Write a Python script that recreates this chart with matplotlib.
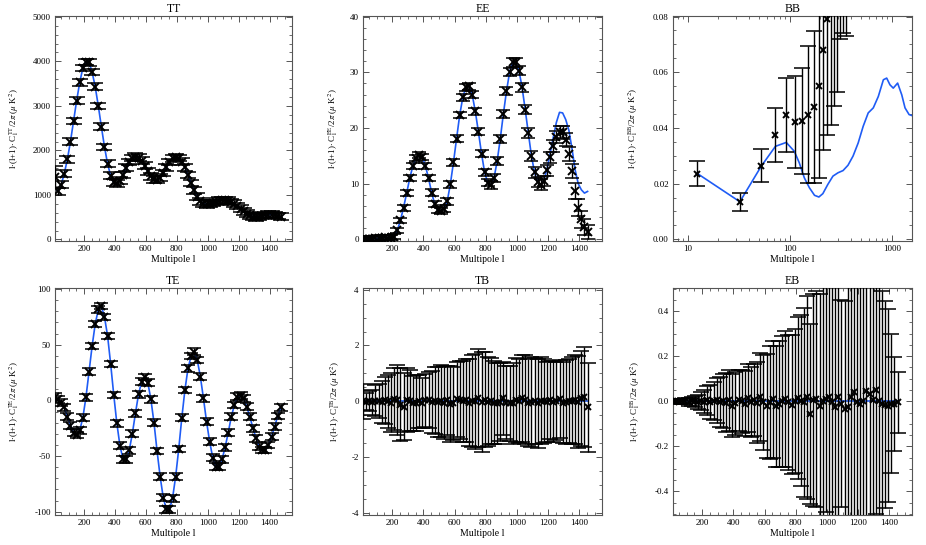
import numpy as np
import matplotlib.pyplot as plt
from matplotlib.ticker import MultipleLocator, AutoMinorLocator, FixedLocator, LogLocator, NullFormatter, FormatStrFormatter

plt.rcParams['font.family'] = ['Liberation Serif', 'DejaVu Serif']
plt.rcParams['mathtext.fontset'] = 'stix'
plt.rcParams['axes.unicode_minus'] = False

# bin centres (multipole l)
ell = [12.5, 32.5, 52.5, 72.5, 92.5, 112.5, 132.5, 152.5, 172.5, 192.5,
       212.5, 232.5, 252.5, 272.5, 292.5, 312.5, 332.5, 352.5, 372.5, 392.5,
       412.5, 432.5, 452.5, 472.5, 492.5, 512.5, 532.5, 552.5, 572.5, 592.5,
       612.5, 632.5, 652.5, 672.5, 692.5, 712.5, 732.5, 752.5, 772.5, 792.5,
       812.5, 832.5, 852.5, 872.5, 892.5, 912.5, 932.5, 952.5, 972.5, 992.5,
       1012.5, 1032.5, 1052.5, 1072.5, 1092.5, 1112.5, 1132.5, 1152.5, 1172.5, 1192.5,
       1212.5, 1232.5, 1252.5, 1272.5, 1292.5, 1312.5, 1332.5, 1352.5, 1372.5, 1392.5,
       1412.5, 1432.5, 1452.5, 1472.5]

# TT
tt_data = [1400, 1080, 1230, 1480, 1800, 2200, 2660, 3120, 3530, 3850,
           3990, 3980, 3760, 3430, 3000, 2530, 2080, 1700, 1430, 1280,
           1260, 1320, 1450, 1610, 1740, 1830, 1860, 1840, 1770, 1660,
           1530, 1420, 1350, 1340, 1390, 1490, 1620, 1740, 1820, 1850,
           1830, 1750, 1620, 1450, 1270, 1100, 960, 860, 800, 790,
           800, 820, 850, 870, 880, 880, 870, 840, 800, 750,
           690, 630, 580, 540, 510, 500, 510, 530, 550, 560,
           560, 550, 530, 510]
tt_err = [240, 80, 75, 75, 75, 75, 75, 75, 75, 75,
          75, 75, 75, 75, 75, 75, 75, 75, 75, 75,
          75, 75, 75, 75, 75, 75, 75, 75, 75, 75,
          75, 75, 75, 75, 75, 75, 75, 75, 75, 75,
          75, 75, 75, 75, 75, 75, 75, 75, 75, 75,
          75, 75, 75, 75, 75, 75, 75, 75, 75, 75,
          75, 75, 75, 75, 75, 75, 75, 75, 75, 75,
          75, 75, 75, 75]
tt_model = [1150, 1080, 1230, 1480, 1800, 2200, 2660, 3120, 3530, 3850,
            3990, 3980, 3760, 3430, 3000, 2530, 2080, 1700, 1430, 1280,
            1260, 1320, 1450, 1610, 1740, 1830, 1860, 1840, 1770, 1660,
            1530, 1420, 1350, 1340, 1390, 1490, 1620, 1740, 1820, 1850,
            1830, 1750, 1620, 1450, 1270, 1100, 960, 860, 800, 790,
            800, 820, 850, 870, 880, 880, 870, 840, 800, 750,
            690, 630, 580, 540, 510, 500, 510, 530, 550, 560,
            560, 550, 530, 510]

# EE
ee_data = [0.05, 0.0, 0.05, 0.1, 0.15, 0.2, 0.3, 0.35, 0.3, 0.3,
           0.5, 1.6, 3.4, 5.7, 8.3, 11.0, 13.2, 14.6, 15.1, 14.8,
           13.2, 11.0, 8.4, 6.3, 5.2, 5.1, 5.5, 6.8, 9.9, 13.8,
           18.1, 22.3, 25.5, 27.3, 27.5, 26.0, 23.0, 19.3, 15.4, 12.0,
           10.2, 9.8, 11.0, 14.0, 18.0, 22.5, 26.6, 30.0, 31.8, 31.8,
           30.3, 27.3, 23.3, 19.1, 15.0, 12.0, 10.3, 9.8, 10.5, 12.4,
           14.7, 16.8, 18.4, 19.3, 19.2, 17.9, 15.4, 12.3, 8.7, 5.7,
           3.6, 2.2, 1.3]
ee_err = [0.5, 0.5, 0.5, 0.5, 0.5, 0.5, 0.5, 0.5, 0.5, 0.5,
          0.5, 0.5, 0.5, 0.55, 0.55, 0.55, 0.55, 0.55, 0.55, 0.55,
          0.55, 0.55, 0.55, 0.55, 0.55, 0.55, 0.6, 0.6, 0.6, 0.6,
          0.6, 0.6, 0.6, 0.65, 0.65, 0.65, 0.65, 0.65, 0.65, 0.65,
          0.7, 0.7, 0.7, 0.7, 0.7, 0.75, 0.75, 0.75, 0.8, 0.8,
          0.8, 0.8, 0.85, 0.85, 0.9, 0.9, 0.9, 0.95, 0.95, 1.0,
          1.0, 1.05, 1.1, 1.1, 1.15, 1.2, 1.25, 1.3, 1.4, 1.5,
          1.5, 1.4, 1.3]
ee_model = [0.05, 0.0, 0.05, 0.1, 0.15, 0.2, 0.3, 0.35, 0.3, 0.3,
            0.5, 1.6, 3.4, 5.7, 8.3, 11.0, 13.2, 14.6, 15.1, 14.8,
            13.2, 11.0, 8.4, 6.3, 5.2, 5.1, 5.5, 6.8, 9.9, 13.8,
            18.1, 22.3, 25.5, 27.3, 27.5, 26.0, 23.0, 19.3, 15.4, 12.0,
            10.2, 9.8, 11.0, 14.0, 18.0, 22.5, 26.6, 30.0, 31.8, 31.8,
            30.3, 27.3, 23.3, 19.1, 15.0, 12.0, 10.3, 9.8, 10.6, 12.7,
            15.4, 18.3, 21.0, 22.8, 22.7, 21.5, 19.6, 16.3, 12.5, 10.0,
            8.9, 8.3, 8.6]

# BB
bb_data = [0.0236, 0.0135, 0.0265, 0.0376, 0.0448, 0.0420, 0.0426, 0.0448, 0.0475, 0.0552,
           0.0680, 0.0790, 0.090, 0.100, 0.110, 0.130, 0.140, 0.150]
bb_err = [0.0045, 0.0032, 0.0060, 0.0097, 0.0133, 0.0165, 0.0190, 0.0245, 0.0272, 0.0330,
          0.0358, 0.0417, 0.049, 0.052, 0.057, 0.058, 0.066, 0.077]
bb_model_ell = [12.5, 32.5, 52.5, 72.5, 92.5, 111, 124, 139, 156, 175, 193, 211, 236, 265,
                297, 333, 372, 417, 468, 524, 587, 658, 737, 826, 890, 958, 1032, 1139,
                1250, 1346, 1475, 1560]
bb_model = [0.0236, 0.0135, 0.0262, 0.0334, 0.0348, 0.0316, 0.0275, 0.0221, 0.0185, 0.0158,
            0.0152, 0.0164, 0.0197, 0.0227, 0.0239, 0.0247, 0.0266, 0.0299, 0.0346, 0.0406,
            0.0454, 0.0472, 0.0513, 0.0573, 0.0579, 0.0555, 0.0543, 0.0561, 0.0519, 0.0472,
            0.0448, 0.0445]

# TE
te_data = [3.0, 1.0, -2.0, -6.3, -14.7, -22.8, -29.0, -31.0, -27.0, -15.6,
           2.7, 25.7, 48.8, 68.6, 81.7, 84.7, 75.0, 58.0, 32.6, 4.8,
           -20.7, -40.7, -53.0, -53.0, -45.0, -30.0, -11.7, 5.4, 16.8, 21.0,
           16.0, 1.0, -20.0, -45.5, -68.6, -87.4, -98.0, -98.0, -88.0, -68.6,
           -43.7, -15.6, 9.3, 28.7, 39.8, 43.7, 36.2, 21.3, 1.8, -19.2,
           -37.0, -51.5, -59.6, -59.6, -53.0, -42.2, -29.0, -14.7, -4.2, 3.3,
           4.2, 1.8, -5.7, -14.7, -25.0, -34.0, -41.6, -44.6, -44.6, -40.0,
           -32.6, -23.7, -14.1, -6.3]
te_err = [4.0, 3.0, 3.0, 3.0, 3.0, 3.0, 3.0, 3.0, 3.0, 3.0,
          3.0, 3.0, 3.0, 3.0, 3.0, 3.0, 3.0, 3.0, 3.0, 3.0,
          3.0, 3.0, 3.0, 3.0, 3.0, 3.0, 3.0, 3.0, 3.0, 3.0,
          3.0, 3.0, 3.0, 3.0, 3.0, 3.0, 3.0, 3.0, 3.0, 3.0,
          3.0, 3.0, 3.0, 3.0, 3.0, 3.0, 3.0, 3.0, 3.0, 3.0,
          3.0, 3.0, 3.0, 3.0, 3.0, 3.0, 3.0, 3.0, 3.0, 3.0,
          3.0, 3.0, 3.0, 3.0, 3.0, 3.0, 3.0, 3.0, 3.0, 3.0,
          3.0, 3.0, 3.0, 3.0]

# TB
tb_data = [0.00, -0.02, 0.00, -0.03, 0.02, 0.00, -0.02, 0.03, 0.00, -0.05,
           0.08, 0.05, -0.12, -0.20, 0.05, 0.02, -0.08, -0.05, 0.00, -0.07,
           0.03, 0.05, -0.03, 0.02, -0.02, 0.00, -0.05, 0.03, -0.10, -0.08,
           0.07, 0.05, 0.00, 0.03, -0.05, 0.02, 0.00, 0.12, -0.03, 0.05,
           -0.02, 0.00, -0.05, -0.08, -0.03, 0.10, -0.05, -0.08, -0.07, 0.05,
           0.00, 0.10, 0.05, -0.05, -0.03, 0.00, -0.08, 0.02, 0.00, -0.03,
           0.05, -0.02, 0.00, 0.08, -0.05, -0.03, 0.00, 0.02, 0.05, -0.02,
           0.10, 0.15, -0.22]
tb_err = [0.62, 0.30, 0.35, 0.45, 0.55, 0.60, 0.75, 0.85, 0.95, 1.05,
          1.10, 1.25, 1.30, 1.20, 1.15, 1.10, 1.00, 1.00, 0.95, 0.90,
          0.95, 1.00, 1.10, 1.20, 1.25, 1.30, 1.30, 1.25, 1.35, 1.30,
          1.35, 1.40, 1.45, 1.50, 1.55, 1.65, 1.70, 1.75, 1.80, 1.70,
          1.60, 1.55, 1.50, 1.45, 1.40, 1.30, 1.30, 1.35, 1.45, 1.50,
          1.50, 1.55, 1.60, 1.55, 1.60, 1.55, 1.60, 1.55, 1.50, 1.45,
          1.40, 1.45, 1.40, 1.40, 1.45, 1.50, 1.50, 1.55, 1.60, 1.65,
          1.70, 1.80, 1.60]

# EB
eb_data = [0.0, 0.001, -0.001, 0.0, 0.002, -0.002, 0.001, 0.0, -0.003, 0.002,
           -0.002, 0.004, -0.003, 0.0, 0.005, -0.004, 0.003, -0.006, 0.004, -0.02,
           -0.008, 0.005, 0.0, -0.01, 0.015, -0.005, 0.005, -0.007, 0.018, -0.005,
           -0.02, -0.005, 0.008, -0.023, -0.012, 0.0, 0.01, -0.005, -0.015, 0.003,
           0.015, 0.003, -0.005, 0.018, -0.055, 0.005, 0.01, -0.023, 0.0, 0.01,
           0.02, -0.005, -0.026, 0.018, -0.01, -0.034, -0.026, 0.018, 0.04, -0.005,
           -0.01, 0.0, 0.047, 0.032, 0.005, 0.05, 0.0, -0.012, -0.015, -0.019,
           -0.01, -0.012, -0.005]
eb_err = [0.006, 0.008, 0.010, 0.012, 0.014, 0.017, 0.020, 0.025, 0.030, 0.040,
          0.050, 0.065, 0.075, 0.085, 0.100, 0.110, 0.120, 0.130, 0.135, 0.140,
          0.140, 0.135, 0.140, 0.145, 0.150, 0.155, 0.160, 0.180, 0.195, 0.210,
          0.230, 0.250, 0.260, 0.270, 0.280, 0.290, 0.300, 0.300, 0.310, 0.320,
          0.360, 0.380, 0.420, 0.450, 0.400, 0.470, 0.480, 0.500, 0.550, 0.500,
          0.600, 0.650, 0.700, 0.750, 0.460, 0.480, 0.600, 0.700, 0.750, 0.800,
          0.800, 0.750, 0.700, 0.650, 0.600, 0.550, 0.520, 0.500, 0.460, 0.430,
          0.310, 0.210, 0.135]

null_ell = [12.5, 1452.5]
null_model = [0.0, 0.0]

BLUE = '#1f5cf5'
W, H = 926, 545
fig = plt.figure(figsize=(W / 100, H / 100), dpi=100)


def panel(left, top, right, bottom):
    return fig.add_axes([left / W, 1 - bottom / H, (right - left) / W, (bottom - top) / H])


def draw(ax, x, y, err, cap, mline_x, mline_y, ms=5):
    ax.plot(mline_x, mline_y, color=BLUE, lw=1.2, zorder=2)
    ax.errorbar(x, y, yerr=err, fmt='none', ecolor='black', elinewidth=1.0,
                capsize=cap, capthick=1.1, zorder=3)
    ax.plot(x, y, 'x', color='black', ms=ms, mew=1.4, zorder=4)


def style(ax, title, spec, ylim, ymaj, ymin_n, fmt, label_x):
    ax.set_title(title, fontsize=8.5, pad=3)
    ax.set_xlabel('Multipole l', fontsize=7, labelpad=1)
    ax.set_ylabel(r'l$\cdot$(l+1)$\cdot$ C$_\mathrm{l}^\mathrm{' + spec + r'}$/2$\pi$ ($\mu$ K$^2$)',
                  fontsize=6.5)
    ax.yaxis.set_label_coords(label_x, 0.5)
    ax.set_ylim(*ylim)
    ax.yaxis.set_major_locator(MultipleLocator(ymaj))
    ax.yaxis.set_minor_locator(AutoMinorLocator(ymin_n))
    ax.yaxis.set_major_formatter(FormatStrFormatter(fmt))
    ax.tick_params(which='both', direction='in', top=True, right=True,
                   labelsize=6.5, color='#555555', pad=3)
    ax.tick_params(which='major', length=4, width=0.7)
    ax.tick_params(which='minor', length=2, width=0.6)
    for s in ax.spines.values():
        s.set_color('#555555')
        s.set_linewidth(0.8)


def lin_x(ax):
    ax.set_xlim(12.5, 1545)
    ax.xaxis.set_major_locator(FixedLocator([200, 400, 600, 800, 1000, 1200, 1400]))
    ax.xaxis.set_minor_locator(MultipleLocator(50))


# top row
ax = panel(55, 16, 292, 241)
draw(ax, ell[:len(tt_data)], tt_data, tt_err, 5.5, ell[:len(tt_model)], tt_model, ms=6)
lin_x(ax)
style(ax, 'TT', 'TT', (-35, 5020), 1000, 5, '%d', -0.143)

ax = panel(363, 16, 602, 241)
draw(ax, ell[:len(ee_data)], ee_data, ee_err, 5, ell[:len(ee_model)], ee_model, ms=5.5)
lin_x(ax)
style(ax, 'EE', 'EE', (-0.3, 40.1), 10, 5, '%d', -0.096)

ax = panel(673, 16, 912, 241)
ax.set_xscale('log')
draw(ax, ell[:len(bb_data)], bb_data, bb_err, 6, bb_model_ell, bb_model)
ax.set_xlim(7.2, 1575)
ax.xaxis.set_major_locator(FixedLocator([10, 100, 1000]))
ax.set_xticklabels(['10', '100', '1000'])
ax.xaxis.set_minor_locator(LogLocator(base=10, subs=(2, 3, 4, 5, 6, 7, 8, 9)))
ax.xaxis.set_minor_formatter(NullFormatter())
style(ax, 'BB', 'BB', (-0.0006, 0.0802), 0.02, 4, '%.2f', -0.138)

# bottom row
ax = panel(55, 288, 292, 515)
draw(ax, ell[:len(te_data)], te_data, te_err, 5, ell[:len(te_data)], te_data, ms=5.5)
lin_x(ax)
style(ax, 'TE', 'TE', (-103, 101), 50, 5, '%d', -0.143)

ax = panel(363, 288, 602, 515)
draw(ax, ell[:len(tb_data)], tb_data, tb_err, 6, null_ell, null_model)
lin_x(ax)
style(ax, 'TB', 'TB', (-4.08, 4.06), 2, 4, '%d', -0.088)

ax = panel(673, 288, 912, 515)
draw(ax, ell[:len(eb_data)], eb_data, eb_err, 6, null_ell, null_model)
lin_x(ax)
style(ax, 'EB', 'EB', (-0.505, 0.503), 0.2, 4, '%.1f', -0.130)

fig.savefig('out.png', dpi=100)
